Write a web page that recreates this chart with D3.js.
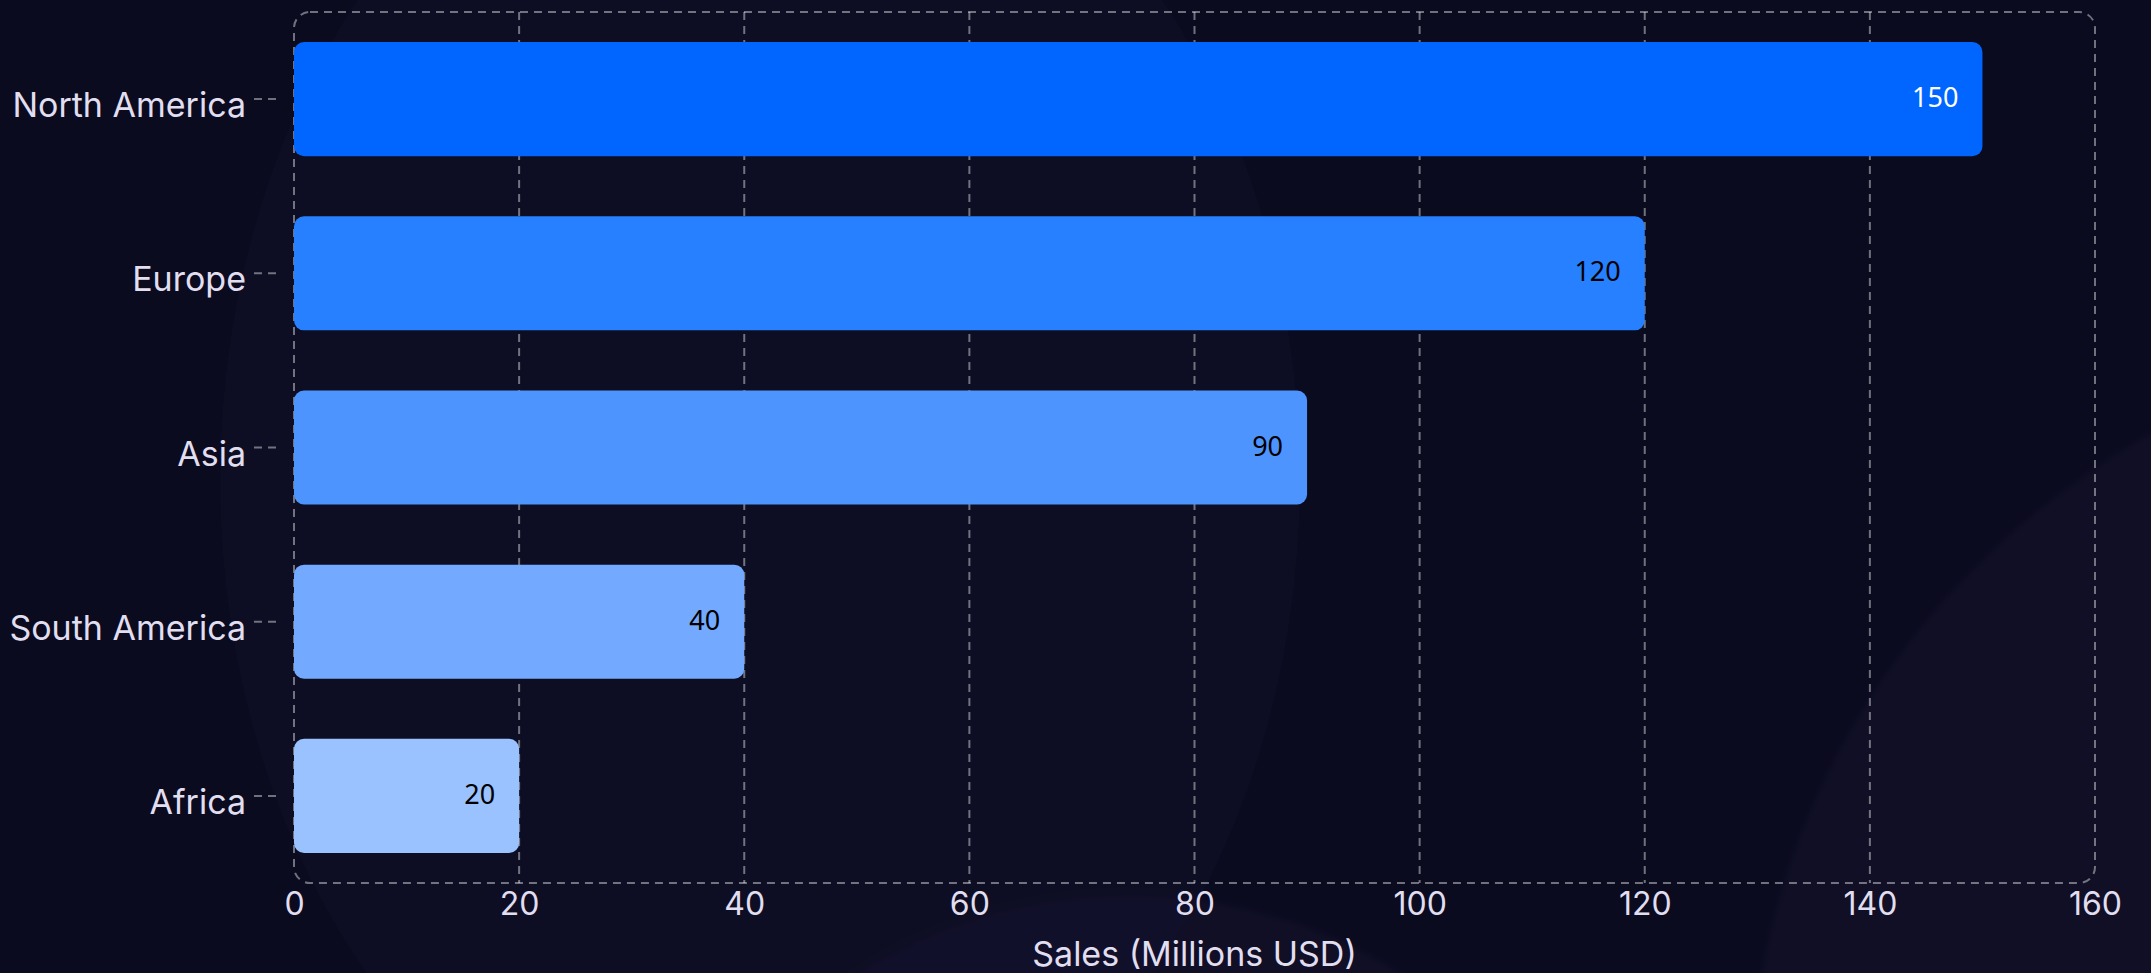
<!DOCTYPE html>
<html>
<head>
<meta charset="utf-8">
<script src="https://cdn.jsdelivr.net/npm/d3@7/dist/d3.min.js"></script>
<style>
  html, body { margin: 0; padding: 0; background: #0a0b1f; overflow: hidden; }
  svg { display: block; }
</style>
</head>
<body>
<svg id="chart" width="2151" height="973"></svg>
<script>
// ---- Data ----
const regions = ["North America", "Europe", "Asia", "South America", "Africa"];
const sales = [150, 120, 90, 40, 20];
const barColors = ["#0066ff", "#2680ff", "#4d94ff", "#73aaff", "#99c2ff"];
const labelColors = ["#ffffff", "#000000", "#000000", "#000000", "#000000"];
const xTicks = [0, 20, 40, 60, 80, 100, 120, 140, 160];
const xTitle = "Sales (Millions USD)";

// ---- Layout ----
const W = 2151, H = 973;
const plot = { left: 294, right: 2095, top: 12, bottom: 883 };
const dash = "8,6";
const gridColor = "rgba(255,255,255,0.42)";
const textColor = "#e1def0";

const svg = d3.select("#chart");

// Background
svg.append("rect").attr("width", W).attr("height", H).attr("fill", "#0a0b1f");
const defs = svg.append("defs");
defs.append("filter").attr("id", "blur").append("feGaussianBlur").attr("stdDeviation", 4);
const bg = svg.append("g").attr("filter", "url(#blur)");
bg.append("ellipse").attr("cx", 760).attr("cy", 480).attr("rx", 540).attr("ry", 720)
  .attr("fill", "rgba(70,55,120,0.05)");
bg.append("ellipse").attr("cx", 1130).attr("cy", 1300).attr("rx", 460).attr("ry", 405)
  .attr("fill", "rgba(80,60,130,0.07)");
bg.append("ellipse").attr("cx", 2580).attr("cy", 1100).attr("rx", 830).attr("ry", 780)
  .attr("fill", "rgba(80,50,120,0.07)");

// Scales
const x = d3.scaleLinear().domain([0, 160]).range([plot.left, plot.right]);
const y = d3.scaleBand().domain(regions).range([plot.top, plot.bottom])
  .paddingInner(0.345).paddingOuter(0.1725);

// Gridlines (inner ticks)
svg.append("g").selectAll("line")
  .data(xTicks.filter(t => t > 0 && t < 160))
  .join("line")
  .attr("x1", d => x(d)).attr("x2", d => x(d))
  .attr("y1", plot.top).attr("y2", plot.bottom)
  .attr("stroke", gridColor).attr("stroke-width", 2)
  .attr("stroke-dasharray", dash);

// Plot border
svg.append("rect")
  .attr("x", plot.left).attr("y", plot.top)
  .attr("width", plot.right - plot.left).attr("height", plot.bottom - plot.top)
  .attr("rx", 16).attr("ry", 16)
  .attr("fill", "none").attr("stroke", gridColor).attr("stroke-width", 2)
  .attr("stroke-dasharray", dash);

// Bars
const data = regions.map((r, i) => ({ region: r, value: sales[i], color: barColors[i], lc: labelColors[i] }));
svg.append("g").selectAll("rect")
  .data(data).join("rect")
  .attr("x", x(0))
  .attr("y", d => y(d.region))
  .attr("width", d => x(d.value) - x(0))
  .attr("height", y.bandwidth())
  .attr("rx", 10).attr("ry", 10)
  .attr("fill", d => d.color);

// Value labels
svg.append("g").selectAll("text")
  .data(data).join("text")
  .attr("x", d => x(d.value) - 24)
  .attr("y", d => y(d.region) + y.bandwidth() / 2 + 8)
  .attr("text-anchor", "end")
  .attr("font-family", "'Noto Sans', 'Open Sans', sans-serif")
  .attr("font-size", 27)
  .attr("fill", d => d.lc)
  .text(d => d.value);

// Y axis
const yAxis = d3.axisLeft(y).tickSize(22).tickPadding(8);
const yg = svg.append("g").attr("transform", `translate(276,0)`).call(yAxis);
yg.select(".domain").remove();
yg.selectAll(".tick line").attr("stroke", gridColor).attr("stroke-width", 2).attr("stroke-dasharray", dash);
yg.selectAll(".tick text")
  .attr("font-family", "Inter, sans-serif").attr("font-size", 34)
  .attr("fill", textColor).attr("dy", null).attr("y", 18);

// X axis
const xAxis = d3.axisBottom(x).tickValues(xTicks).tickSize(0).tickPadding(0);
const xg = svg.append("g").attr("transform", `translate(0,${plot.bottom})`).call(xAxis);
xg.select(".domain").remove();
xg.selectAll(".tick text")
  .attr("font-family", "Inter, sans-serif").attr("font-size", 32)
  .attr("fill", textColor).attr("dy", null).attr("y", 32);

// X title
svg.append("text")
  .attr("x", (plot.left + plot.right) / 2)
  .attr("y", 966)
  .attr("text-anchor", "middle")
  .attr("font-family", "Inter, sans-serif").attr("font-size", 34)
  .attr("fill", textColor)
  .text(xTitle);
</script>
</body>
</html>
